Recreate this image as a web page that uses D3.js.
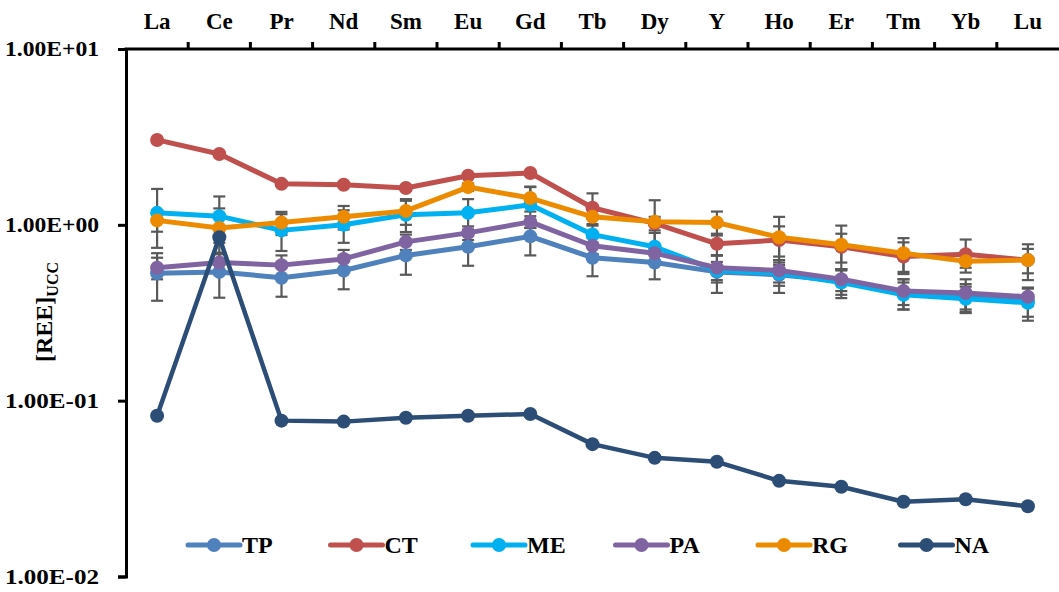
<!DOCTYPE html>
<html lang="en">
<head>
<meta charset="UTF-8">
<title>REE UCC</title>
<script src="https://d3js.org/d3.v7.min.js"></script>
<style>
  body { margin: 0; background: #fff; }
  text { font-family: "Times New Roman", "Liberation Serif", serif; font-weight: bold; fill: #000; }
</style>
</head>
<body>
<script>
// categories (top axis)
var elements = ['La', 'Ce', 'Pr', 'Nd', 'Sm', 'Eu', 'Gd', 'Tb', 'Dy', 'Y', 'Ho', 'Er', 'Tm', 'Yb', 'Lu'];
var yTicks = [10, 1, 0.1, 0.01];

// series values, normalised to UCC
var TP = [0.53, 0.54, 0.50, 0.55, 0.67, 0.75, 0.86, 0.65, 0.61, 0.54, 0.52, 0.48, 0.41, 0.39, 0.37];
var CT = [3.04, 2.53, 1.71, 1.69, 1.62, 1.90, 1.97, 1.25, 1.02, 0.78, 0.82, 0.75, 0.66, 0.68, 0.63];
var ME = [1.17, 1.12, 0.93, 1.00, 1.14, 1.17, 1.30, 0.88, 0.75, 0.55, 0.53, 0.47, 0.40, 0.38, 0.36];
var PA = [0.57, 0.61, 0.59, 0.64, 0.80, 0.90, 1.04, 0.76, 0.69, 0.57, 0.55, 0.49, 0.42, 0.41, 0.39];
var RG = [1.06, 0.96, 1.03, 1.11, 1.20, 1.64, 1.42, 1.11, 1.04, 1.03, 0.85, 0.77, 0.69, 0.62, 0.63];
var NA = [0.082, 0.85, 0.077, 0.076, 0.080, 0.082, 0.084, 0.0566, 0.0473, 0.0449, 0.035, 0.0324, 0.0266, 0.0275, 0.0251];

// error bar half widths (standard deviation)
var TPerr = [0.16, 0.155, 0.11, 0.12, 0.15, 0.165, 0.19, 0.14, 0.12, 0.13, 0.11, 0.08, 0.08, 0.07, 0.07];
var CTerr = [0.05, 0.05, 0.05, 0.05, 0.05, 0.05, 0.05, 0.26, 0.09, 0.11, 0.16, 0.14, 0.135, 0.145, 0.10];
var MEerr = [0.43, 0.33, 0.22, 0.21, 0.23, 0.23, 0.34, 0.20, 0.15, 0.065, 0.08, 0.087, 0.07, 0.065, 0.075];
var PAerr = [0.08, 0.08, 0.08, 0.08, 0.08, 0.08, 0.08, 0.08, 0.08, 0.10, 0.08, 0.07, 0.07, 0.08, 0.045];
var RGerr = [0.146, 0.28, 0.155, 0.17, 0.20, 0.08, 0.23, 0.10, 0.34, 0.16, 0.26, 0.22, 0.15, 0.05, 0.145];

var series = [
    { name: 'TP', values: TP, err: TPerr, color: '#4F81BD' },
    { name: 'CT', values: CT, err: CTerr, color: '#C0504D' },
    { name: 'ME', values: ME, err: MEerr, color: '#00B0F0' },
    { name: 'PA', values: PA, err: PAerr, color: '#8064A2' },
    { name: 'RG', values: RG, err: RGerr, color: '#ED8B00' },
    { name: 'NA', values: NA, err: null, color: '#2C4D76' }
];

var W = 1059, H = 592;
var mLeft = 126, mRight = 1059, mTop = 49, mBottom = 576.5;

var svg = d3.select('body').append('svg')
    .attr('width', W)
    .attr('height', H);

var x = d3.scaleBand().domain(elements).range([mLeft, mRight]).padding(0);
var y = d3.scaleLog().domain([0.01, 10]).range([mBottom, mTop]);
var cx = function (d) { return x(d) + x.bandwidth() / 2; };

function fmt(v) {
    var e = Math.round(Math.log10(v));
    var s = e < 0 ? '-' : '+';
    var a = Math.abs(e);
    return '1.00E' + s + (a < 10 ? '0' : '') + a;
}

// error bars (under the lines)
var eg = svg.append('g').attr('stroke', '#595959').attr('stroke-width', 2.2);
series.forEach(function (s) {
    if (!s.err) return;
    elements.forEach(function (el, i) {
        var v = s.values[i], e = s.err[i];
        var xx = cx(el), y1 = y(v + e), y2 = y(Math.max(v - e, 0.011));
        eg.append('line').attr('x1', xx).attr('x2', xx).attr('y1', y1).attr('y2', y2);
        eg.append('line').attr('x1', xx - 6).attr('x2', xx + 6).attr('y1', y1).attr('y2', y1);
        eg.append('line').attr('x1', xx - 6).attr('x2', xx + 6).attr('y1', y2).attr('y2', y2);
    });
});

// lines + markers
var line = d3.line()
    .x(function (d) { return cx(d.el); })
    .y(function (d) { return y(d.v); });

series.forEach(function (s) {
    var pts = elements.map(function (el, i) { return { el: el, v: s.values[i] }; });
    var g = svg.append('g');
    g.append('path')
        .datum(pts)
        .attr('d', line)
        .attr('fill', 'none')
        .attr('stroke', s.color)
        .attr('stroke-width', s.name === 'NA' ? 4.5 : 5)
        .attr('stroke-linejoin', 'round');
    g.selectAll('circle')
        .data(pts)
        .enter()
        .append('circle')
        .attr('cx', function (d) { return cx(d.el); })
        .attr('cy', function (d) { return y(d.v); })
        .attr('r', 7)
        .attr('fill', s.color);
});

// top axis: labels at centers, ticks at category borders
var topAxis = svg.append('g')
    .attr('transform', 'translate(0,' + mTop + ')')
    .call(d3.axisTop(x).tickSize(0).tickPadding(20));
topAxis.select('.domain').remove();
topAxis.selectAll('text').style('font-size', '23px').attr('font-family', null);

svg.append('line')
    .attr('x1', mLeft - 1.5).attr('x2', mRight)
    .attr('y1', mTop).attr('y2', mTop)
    .attr('stroke', '#000').attr('stroke-width', 3);

svg.selectAll('.bt')
    .data(elements.slice(0, elements.length - 1))
    .enter()
    .append('line')
    .attr('x1', function (d) { return x(d) + x.bandwidth(); })
    .attr('x2', function (d) { return x(d) + x.bandwidth(); })
    .attr('y1', mTop).attr('y2', mTop - 7)
    .attr('stroke', '#000').attr('stroke-width', 3);

// left axis
var leftAxis = svg.append('g')
    .attr('transform', 'translate(' + mLeft + ',0)')
    .call(d3.axisLeft(y).tickValues(yTicks).tickFormat(fmt).tickSize(8).tickPadding(19));
leftAxis.select('.domain').attr('stroke-width', 3);
leftAxis.selectAll('.tick line').attr('stroke-width', 3);
leftAxis.selectAll('text')
    .style('font-size', '21px')
    .attr('font-family', null)
    .attr('textLength', 94)
    .attr('lengthAdjust', 'spacingAndGlyphs');

// y title
var yt = svg.append('text')
    .attr('transform', 'translate(52,' + 312 + ') rotate(-90)')
    .attr('text-anchor', 'middle')
    .style('font-size', '24px');
yt.append('tspan').text('[REE]');
yt.append('tspan').attr('dy', 6).style('font-size', '16px').text('UCC');

// legend
var lg = svg.append('g').attr('transform', 'translate(188,545)');
series.forEach(function (s, i) {
    var g = lg.append('g').attr('transform', 'translate(' + (i * 142.5) + ',0)');
    g.append('line').attr('x1', 0).attr('x2', 52).attr('y1', 0).attr('y2', 0)
        .attr('stroke', s.color).attr('stroke-width', 5).attr('stroke-linecap', 'round');
    g.append('circle').attr('cx', 26).attr('cy', 0).attr('r', 7).attr('fill', s.color);
    g.append('text').attr('x', 54).attr('y', 8).style('font-size', '24px').text(s.name);
});
</script>
</body>
</html>
